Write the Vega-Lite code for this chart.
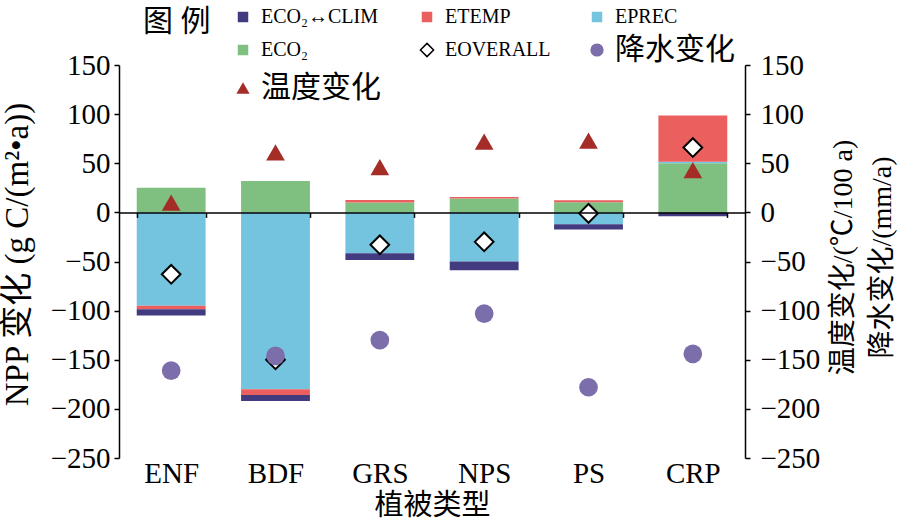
{
  "$schema": "https://vega.github.io/schema/vega-lite/v6.json",
  "width": 626,
  "height": 393,
  "autosize": {"type": "none"},
  "padding": {"left": 119, "top": 65, "right": 155, "bottom": 66},
  "background": "white",
  "config": {
    "font": "Liberation Serif, Noto Sans CJK SC",
    "view": {"stroke": null},
    "axis": {
      "labelFont": "Liberation Serif, Noto Sans CJK SC",
      "titleFont": "Liberation Serif, Noto Sans CJK SC",
      "labelColor": "black",
      "titleColor": "black",
      "domainColor": "black",
      "tickColor": "black",
      "grid": false,
      "labelFontSize": 29,
      "titleFontSize": 30,
      "titleFontWeight": "normal",
      "domainWidth": 1.5,
      "tickWidth": 1.5,
      "tickSize": 5
    },
    "legend": {
      "labelFont": "Liberation Serif, Noto Sans CJK SC",
      "titleFont": "Liberation Serif, Noto Sans CJK SC"
    }
  },
  "datasets": {
    "bars": [
      {"type": "ENF", "series": "ECO₂", "rank": 1, "value": 25},
      {"type": "ENF", "series": "EPREC", "rank": 2, "value": -95},
      {"type": "ENF", "series": "ETEMP", "rank": 3, "value": -3.5},
      {"type": "ENF", "series": "ECO₂↔CLIM", "rank": 4, "value": -6.5},
      {"type": "BDF", "series": "ECO₂", "rank": 1, "value": 32},
      {"type": "BDF", "series": "EPREC", "rank": 2, "value": -180},
      {"type": "BDF", "series": "ETEMP", "rank": 3, "value": -6},
      {"type": "BDF", "series": "ECO₂↔CLIM", "rank": 4, "value": -6},
      {"type": "GRS", "series": "ECO₂", "rank": 1, "value": 10},
      {"type": "GRS", "series": "EPREC", "rank": 2, "value": -41.5},
      {"type": "GRS", "series": "ETEMP", "rank": 3, "value": 2.5},
      {"type": "GRS", "series": "ECO₂↔CLIM", "rank": 4, "value": -7},
      {"type": "NPS", "series": "ECO₂", "rank": 1, "value": 14},
      {"type": "NPS", "series": "EPREC", "rank": 2, "value": -50},
      {"type": "NPS", "series": "ETEMP", "rank": 3, "value": 1.7},
      {"type": "NPS", "series": "ECO₂↔CLIM", "rank": 4, "value": -8.8},
      {"type": "PS", "series": "ECO₂", "rank": 1, "value": 10.4},
      {"type": "PS", "series": "EPREC", "rank": 2, "value": -12},
      {"type": "PS", "series": "ETEMP", "rank": 3, "value": 2},
      {"type": "PS", "series": "ECO₂↔CLIM", "rank": 4, "value": -5.5},
      {"type": "CRP", "series": "ECO₂", "rank": 1, "value": 50},
      {"type": "CRP", "series": "EPREC", "rank": 2, "value": 1.5},
      {"type": "CRP", "series": "ETEMP", "rank": 3, "value": 47},
      {"type": "CRP", "series": "ECO₂↔CLIM", "rank": 4, "value": -4}
    ],
    "points": [
      {"type": "ENF", "series": "EOVERALL", "value": -63},
      {"type": "BDF", "series": "EOVERALL", "value": -150},
      {"type": "GRS", "series": "EOVERALL", "value": -33},
      {"type": "NPS", "series": "EOVERALL", "value": -30},
      {"type": "PS", "series": "EOVERALL", "value": -1},
      {"type": "CRP", "series": "EOVERALL", "value": 66},
      {"type": "ENF", "series": "温度变化", "value": 10},
      {"type": "BDF", "series": "温度变化", "value": 61},
      {"type": "GRS", "series": "温度变化", "value": 46},
      {"type": "NPS", "series": "温度变化", "value": 72},
      {"type": "PS", "series": "温度变化", "value": 73},
      {"type": "CRP", "series": "温度变化", "value": 43},
      {"type": "ENF", "series": "降水变化", "value": -161},
      {"type": "BDF", "series": "降水变化", "value": -146},
      {"type": "GRS", "series": "降水变化", "value": -130},
      {"type": "NPS", "series": "降水变化", "value": -103},
      {"type": "PS", "series": "降水变化", "value": -178},
      {"type": "CRP", "series": "降水变化", "value": -144}
    ]
  },
  "layer": [
    {
      "data": {"name": "bars"},
      "mark": {"type": "bar"},
      "encoding": {
        "x": {
          "field": "type",
          "type": "nominal",
          "sort": ["ENF", "BDF", "GRS", "NPS", "PS", "CRP"],
          "scale": {"paddingInner": 0.34, "paddingOuter": 0.17},
          "axis": {
            "title": "植被类型",
            "orient": "bottom",
            "offset": -245.6,
            "labelAngle": 0,
            "labelPadding": 242,
            "tickBand": "extent",
            "tickSize": 5,
            "titleY": 293,
            "titleBaseline": "middle",
            "titleFontSize": 29,
            "zindex": 1
          }
        },
        "y": {
          "field": "value",
          "type": "quantitative",
          "stack": "zero",
          "scale": {"domain": [-250, 150], "nice": false, "zero": false},
          "axis": {
            "orient": "left",
            "title": "NPP 变化 (g C/(m²•a))",
            "values": [-250, -200, -150, -100, -50, 0, 50, 100, 150],
            "labelPadding": 4,
            "titleX": -102,
            "titleY": 189,
            "titleBaseline": "middle",
            "titleFontSize": 33
          }
        },
        "color": {
          "field": "series",
          "type": "nominal",
          "scale": {
            "domain": ["ECO₂↔CLIM", "ETEMP", "EPREC", "ECO₂", "EOVERALL", "降水变化", "温度变化"],
            "range": ["#433B80", "#EB5F5F", "#74C4DF", "#7FBF7F", "#FFFFFF", "#7C6EAB", "#A52D28"]
          },
          "legend": {
            "title": "图 例",
            "titleOrient": "left",
            "titleAnchor": "start",
            "titleFontSize": 30,
            "titleFontWeight": "normal",
            "titleColor": "black",
            "titlePadding": 22,
            "titleBaseline": "top",
            "orient": "none",
            "direction": "horizontal",
            "legendX": 24,
            "legendY": -58,
            "columns": 3,
            "columnPadding": 36,
            "rowPadding": 8,
            "labelFontSize": 20,
            "labelOffset": 8,
            "labelLimit": 300,
            "labelColor": "black",
            "padding": 0,
            "encode": {
              "symbols": {"update": {
                "size": {"signal": "datum.value === 'EOVERALL' || datum.value === '降水变化' || datum.value === '温度变化' ? 175 : 110"},
                "stroke": {"value": "black"},
                "strokeWidth": {"signal": "datum.value === 'EOVERALL' ? 1.5 : 0"},
                "opacity": {"value": 1}
              }},
              "labels": {"update": {
                "fontSize": {"signal": "datum.value === '降水变化' || datum.value === '温度变化' ? 30 : 20"}
              }}
            }
          }
        },
        "order": {"field": "rank", "type": "quantitative"}
      }
    },
    {
      "data": {"name": "points"},
      "mark": {"type": "point", "filled": true, "stroke": "black", "opacity": 1, "size": 350},
      "encoding": {
        "x": {"field": "type", "type": "nominal", "sort": ["ENF", "BDF", "GRS", "NPS", "PS", "CRP"]},
        "y": {
          "field": "value",
          "type": "quantitative",
          "scale": {"domain": [-250, 150], "nice": false, "zero": false},
          "axis": {
            "orient": "right",
            "title": ["温度变化/(℃/100 a)", "降水变化/(mm/a)"],
            "values": [-250, -200, -150, -100, -50, 0, 50, 100, 150],
            "labelPadding": 10,
            "titleAngle": 270,
            "titleX": 98,
            "titleY": 192,
            "titleBaseline": "middle",
            "titleLineHeight": 39,
            "titleFontSize": 28
          }
        },
        "color": {
          "field": "series",
          "type": "nominal",
          "scale": {
            "domain": ["ECO₂↔CLIM", "ETEMP", "EPREC", "ECO₂", "EOVERALL", "降水变化", "温度变化"],
            "range": ["#433B80", "#EB5F5F", "#74C4DF", "#7FBF7F", "#FFFFFF", "#7C6EAB", "#A52D28"]
          }
        },
        "shape": {
          "field": "series",
          "type": "nominal",
          "scale": {
            "domain": ["ECO₂↔CLIM", "ETEMP", "EPREC", "ECO₂", "EOVERALL", "降水变化", "温度变化"],
            "range": ["square", "square", "square", "square", "diamond", "circle", "triangle-up"]
          }
        },
        "strokeWidth": {"condition": {"test": "datum.series === 'EOVERALL'", "value": 2}, "value": 0}
      }
    }
  ],
  "resolve": {"scale": {"y": "independent"}}
}
